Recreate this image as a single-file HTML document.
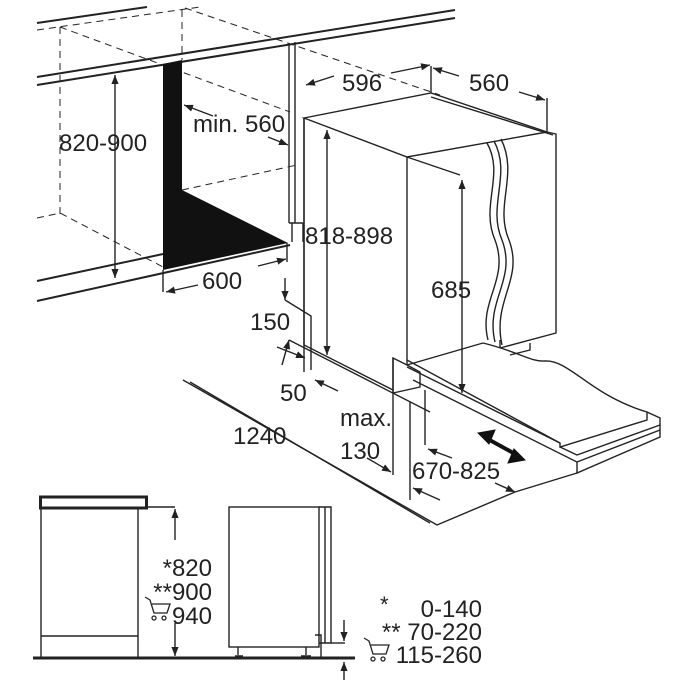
<!DOCTYPE html>
<html><head><meta charset="utf-8"><style>
html,body{margin:0;padding:0;background:#fff}
svg{display:block}
text{font-family:"Liberation Sans",sans-serif;fill:#222}
</style></head><body>
<svg width="700" height="700" viewBox="0 0 700 700" xmlns="http://www.w3.org/2000/svg">
<defs>
<marker id="a" viewBox="0 0 10 10" refX="10" refY="5" markerWidth="9" markerHeight="9" orient="auto-start-reverse" markerUnits="userSpaceOnUse"><path d="M0,1 L10,5 L0,9 z" fill="#222"/></marker>
</defs>
<g stroke="#222" fill="none" stroke-width="1.4">
<g stroke-dasharray="7,5" stroke-width="1">
<path d="M37,30 L200,7"/>
<path d="M60,27 V215"/>
<path d="M182,10 V60"/>
<path d="M60,27 L290,112"/>
<path d="M185,8 L440,95"/>
<path d="M37,218 L60,213 L163,267"/>
<path d="M182,190 L297,165"/>
</g>
<path d="M37,23 L147,7" stroke-width="2"/>
<path d="M37,77 L455,10" stroke-width="2"/>
<path d="M37,85 L455,18" stroke-width="2"/>
<path d="M37,281 L163,254" stroke-width="2"/>
<path d="M37,301 L290,245" stroke-width="2"/>
<path d="M289,43 V223 M295,42 V223 M289,223 H303 M292,223 V242 M303,223 V242"/>
<path d="M287,243 V262"/>
</g>
<polygon points="163,64 182,60 182,190 288,243 163,270" fill="#111"/>
<g stroke="#222" fill="none" stroke-width="1.4">
<path d="M115,75 V278" marker-start="url(#a)" marker-end="url(#a)"/>
<path d="M213,116 L184,105" marker-end="url(#a)"/>
<path d="M268,137 L288,145" marker-end="url(#a)"/>
<path d="M163,270 V292"/>
<path d="M198,285 L166,292" marker-end="url(#a)"/>
<path d="M258,266 L286,259" marker-end="url(#a)"/>
<path d="M327,130 V355" marker-start="url(#a)" marker-end="url(#a)"/>
<path d="M304,118 L431,93 L547,132 L407,157 Z"/>
<path d="M431,97 L553,135" />
<path d="M304,118 V345 L393,390"/>
<path d="M407,157 V365"/>
<path d="M407,157 L460,175"/>
<path d="M547,132 L556,134 V333 L500,348"/>
<path d="M407,365 L483,343"/>
<path d="M500,348 V340"/>
<path d="M487,143 C505,175 480,205 495,240 C510,280 478,300 488,340"/>
<path d="M494,141 C512,175 487,205 502,240 C517,280 485,300 495,342"/>
<path d="M501,139 C519,175 494,205 509,240 C524,280 492,300 502,345"/>
<path d="M530,343 V350 L510,355"/>
<path d="M483,343 C520,352 530,362 545,361 C570,360 590,395 647,412 L647,420 L560,447 L560,443 L407,367"/>
<path d="M407,360 L560,443"/>
<path d="M647,412 L660,418 V437 L577,473 L577,462 L413,380"/>
<path d="M560,447 L577,455 L660,425"/>
<path d="M577,462 L660,430"/>
<path d="M393,358 L407,365 L420,372 V387 L393,393 Z"/>
<path d="M393,358 V393"/>
<path d="M462,180 V393" marker-start="url(#a)" marker-end="url(#a)"/>
<path d="M304,118 V372"/>
<path d="M431,93 V66"/>
<path d="M547,132 V98"/>
<path d="M334,76 L306,85" marker-end="url(#a)"/>
<path d="M391,73 L430,65" marker-end="url(#a)"/>
<path d="M459,76 L433,68" marker-end="url(#a)"/>
<path d="M519,92 L545,100" marker-end="url(#a)"/>
<path d="M285,278 V300" marker-end="url(#a)"/>
<path d="M285,300 L311,316 V370"/>
<path d="M282,365 L289,340" marker-end="url(#a)"/>
<path d="M183,380 L437,525 L515,492"/>
<path d="M289,340 L430,412"/>
<path d="M277,347 L305,358" marker-end="url(#a)"/>
<path d="M338,391 L315,380" marker-end="url(#a)"/>
<path d="M393,393 V475"/>
<path d="M410,402 V500"/>
<path d="M425,390 V445"/>
<path d="M367,458 L391,472" marker-end="url(#a)"/>
<path d="M440,500 L413,488" marker-end="url(#a)"/>
<path d="M452,458 L428,449" marker-end="url(#a)"/>
<path d="M495,483 L515,492" marker-end="url(#a)"/>
<path d="M577,473 L515,492"/>
<path d="M190,382 L430,523"/>
</g>
<g stroke="#111" stroke-width="4" fill="#111">
<path d="M486,438 L517,455"/>
<polygon points="478,433 495,430 489,444" stroke-width="1"/>
<polygon points="525,460 508,463 514,449" stroke-width="1"/>
</g>
<g font-size="24">
<text x="59" y="151">820-900</text>
<text x="193" y="132">min. 560</text>
<text x="202" y="289">600</text>
<text x="305" y="244">818-898</text>
<text x="342" y="91">596</text>
<text x="469" y="91">560</text>
<text x="431" y="298">685</text>
<text x="250" y="330">150</text>
<text x="280" y="401">50</text>
<text x="340" y="426">max.</text>
<text x="340" y="459">130</text>
<text x="233" y="444">1240</text>
<text x="412" y="479">670-825</text>
</g>
<g stroke="#222" fill="none" stroke-width="1.4">
<rect x="40.5" y="497" width="106" height="11" stroke-width="3"/>
<path d="M41,508 V658 M138,508 V658 M41,636 H138"/>
<path d="M33,658 H355" stroke-width="3"/>
<path d="M147,507 H175"/>
<path d="M175,540 V509" marker-end="url(#a)"/>
<path d="M175,623 V656" marker-end="url(#a)"/>
<rect x="229" y="507" width="90" height="140"/>
<path d="M319,507 H331 V643 H319 M325,507 V643 M315,635 H321 V657"/>
<path d="M238,647 V655 M235,656 H243 M306,647 V655 M301,656 H311"/>
<path d="M331,643 H345"/>
<path d="M344,620 V641" marker-end="url(#a)"/>
<path d="M344,680 V662" marker-end="url(#a)"/>
</g>
<g font-size="24" text-anchor="end">
<text x="212" y="576">*820</text>
<text x="212" y="600">**900</text>
<text x="212" y="624">940</text>
<text x="482" y="617">0-140</text>
<text x="482" y="640">** 70-220</text>
<text x="482" y="663">115-260</text>
</g>
<text x="380" y="612" font-size="22">*</text>
<g stroke="#222" fill="none" stroke-width="1.3">
<path d="M145,597 L150,600 L154,613 H167 L170,604 H152"/>
<circle cx="154" cy="618" r="2"/><circle cx="164" cy="618" r="2"/>
<path d="M364,638 L369,641 L373,654 H386 L389,645 H371"/>
<circle cx="373" cy="659" r="2"/><circle cx="383" cy="659" r="2"/>
</g>
</svg>
</body></html>
